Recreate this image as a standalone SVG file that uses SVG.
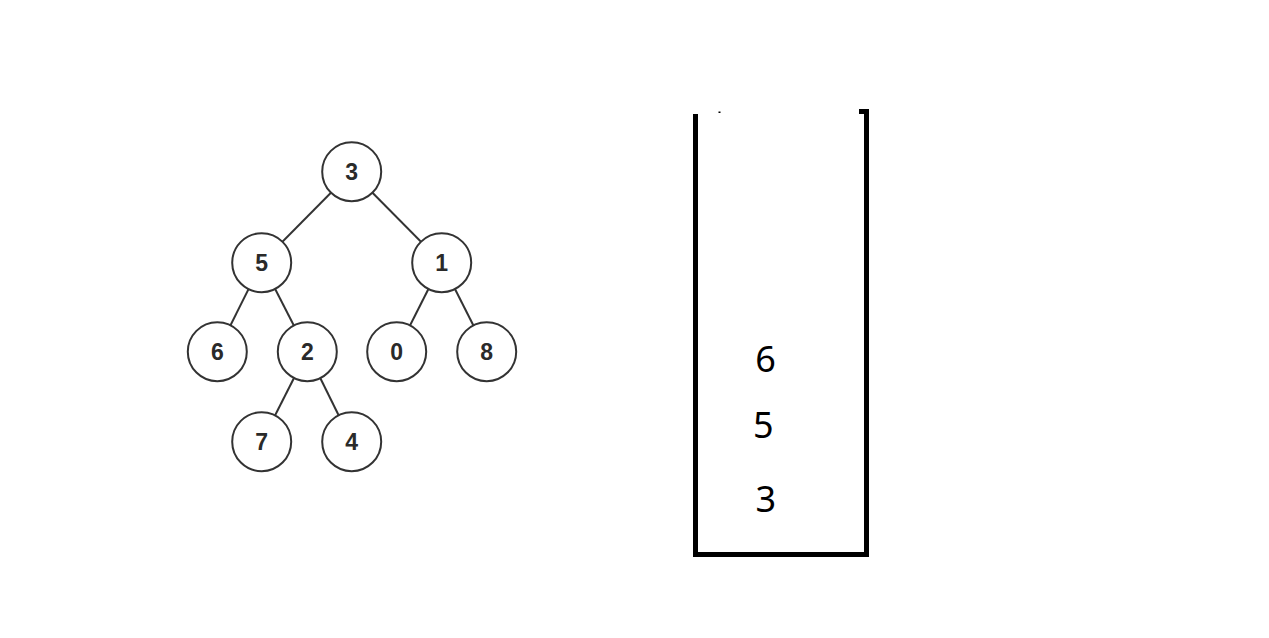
<svg xmlns="http://www.w3.org/2000/svg" width="1269" height="638" viewBox="0 0 1269 638">
<style>
.n circle{fill:#fff;stroke:#333;stroke-width:2}
.n text{font-family:"Liberation Sans",Arial,sans-serif;font-weight:bold;font-size:23px;fill:#2a2a2a;text-anchor:middle}
.e line{stroke:#333;stroke-width:2}
.s{font-family:"Noto Sans","Open Sans",sans-serif;fill:#000;text-anchor:middle;font-size:36px}
</style>
<rect width="1269" height="638" fill="#fff"/>
<g id="edges" class="e">
<line x1="351.7" y1="171.7" x2="261.7" y2="262.7"/>
<line x1="351.7" y1="171.7" x2="441.7" y2="262.7"/>
<line x1="261.7" y1="262.7" x2="217.3" y2="351.7"/>
<line x1="261.7" y1="262.7" x2="307.3" y2="351.7"/>
<line x1="441.7" y1="262.7" x2="396.7" y2="351.7"/>
<line x1="441.7" y1="262.7" x2="486.7" y2="351.7"/>
<line x1="307.3" y1="351.7" x2="261.7" y2="441.7"/>
<line x1="307.3" y1="351.7" x2="351.7" y2="441.7"/>
</g>
<g id="n3" class="n"><circle cx="351.7" cy="171.7" r="29.5"/><text x="351.7" y="180">3</text></g>
<g id="n5" class="n"><circle cx="261.7" cy="262.7" r="29.5"/><text x="261.7" y="271">5</text></g>
<g id="n1" class="n"><circle cx="441.7" cy="262.7" r="29.5"/><text x="441.7" y="271">1</text></g>
<g id="n6" class="n"><circle cx="217.3" cy="351.7" r="29.5"/><text x="217.3" y="360">6</text></g>
<g id="n2" class="n"><circle cx="307.3" cy="351.7" r="29.5"/><text x="307.3" y="360">2</text></g>
<g id="n0" class="n"><circle cx="396.7" cy="351.7" r="29.5"/><text x="396.7" y="360">0</text></g>
<g id="n8" class="n"><circle cx="486.7" cy="351.7" r="29.5"/><text x="486.7" y="360">8</text></g>
<g id="n7" class="n"><circle cx="261.7" cy="441.7" r="29.5"/><text x="261.7" y="450">7</text></g>
<g id="n4" class="n"><circle cx="351.7" cy="441.7" r="29.5"/><text x="351.7" y="450">4</text></g>
<g id="stack">
<path d="M695.5,114 L695.5,554.5 L866.5,554.5 L866.5,111.5 L859,111.5" fill="none" stroke="#000" stroke-width="5" stroke-linejoin="miter"/>
<rect x="718.5" y="111.5" width="2" height="1.5" fill="#000"/>
<text class="s" x="765.5" y="372">6</text>
<text class="s" x="763.3" y="438">5</text>
<text class="s" x="765.7" y="511.7">3</text>
</g>
</svg>
